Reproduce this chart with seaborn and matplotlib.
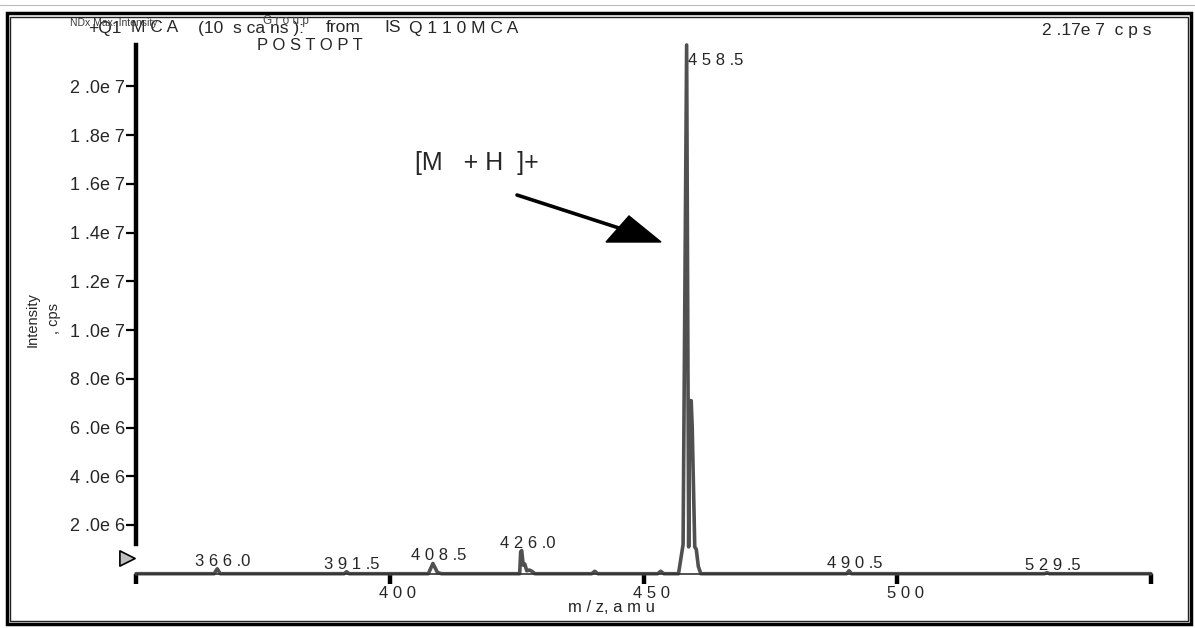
import matplotlib
matplotlib.use("Agg")
import matplotlib.pyplot as plt
from matplotlib.lines import Line2D
from matplotlib.patches import Polygon, Rectangle
from matplotlib.transforms import ScaledTranslation
import seaborn as sns
import pandas as pd

# Profile spectrum: m/z (amu) and intensity (cps)
mz = [350.0, 365.4, 366.0, 366.6, 391.0, 391.5, 392.0,
      407.6, 408.5, 409.4, 410.2,
      425.6, 425.8, 426.0, 426.3, 426.6, 427.0, 427.5, 428.0, 428.6,
      439.8, 440.4, 441.0, 452.8, 453.4, 454.0,
      456.9, 457.8, 458.5, 458.9, 459.1, 459.4, 459.6, 460.1, 460.4, 460.8, 461.3,
      490.0, 490.5, 491.0, 529.0, 529.5, 530.0, 550.0]
intensity = [0, 0, 0.2e6, 0, 0, 0.08e6, 0,
             0, 0.42e6, 0.05e6, 0,
             0, 0.9e6, 0.95e6, 0.35e6, 0.4e6, 0.12e6, 0.15e6, 0.1e6, 0,
             0, 0.1e6, 0, 0, 0.1e6, 0,
             0, 1.2e6, 2.17e7, 1.1e6, 7.1e6, 7.1e6, 6.0e6, 1.1e6, 1.0e6, 0.3e6, 0,
             0, 0.12e6, 0, 0, 0.04e6, 0, 0]

labelled_peaks = [366.0, 391.5, 408.5, 426.0, 458.5, 490.5, 529.5]
x_ticks = [350, 400, 450, 500, 550]
x_tick_labels = ["", "400", "450", "500", ""]
y_ticks = [2e6, 4e6, 6e6, 8e6, 1e7, 1.2e7, 1.4e7, 1.6e7, 1.8e7, 2e7]
max_intensity = 2.17e7

# Header words and their left edges (px)
title_words = ["+Q1", "M C A", "(10  s ca ns ):", "from", "IS", "Q 1 1 0 M C A"]
title_x = [88, 131, 198, 326, 384, 409]
subtitle_text = "P O S T O P T"
max_text = "2 .17e 7  c p s"
ion_text = "[M   + H  ]+"
x_title = "m / z, a m u"


def spaced(s):
    return " ".join(s).replace(" . ", " .")


def sci(v):
    m, e = f"{v:.1e}".split("e")
    return f"{m[0]} .{m[2]}e {int(e)}"


sns.set_theme(style="white")
plt.rcParams["font.family"] = ["Liberation Sans", "DejaVu Sans"]

W, H = 1195, 628
fig = plt.figure(figsize=(W / 100, H / 100), dpi=100)
ax = fig.add_axes([136 / W, 1 - 573.7 / H, (1151 - 136) / W, (573.7 - 45) / H])

df = pd.DataFrame({"mz": mz, "cps": intensity})
sns.lineplot(data=df, x="mz", y="cps", sort=False, estimator=None,
             color="#505050", lw=2.6, ax=ax, clip_on=False)

ax.set_xlim(350, 550)
ax.set_ylim(0, max_intensity)
ax.set_xlabel("")
ax.set_ylabel("")

for side in ("top", "right"):
    ax.spines[side].set_visible(False)
ax.spines["left"].set_linewidth(3.2)
ax.spines["left"].set_color("black")
ax.spines["left"].set_bounds(1.2e6, max_intensity)
ax.spines["bottom"].set_linewidth(1.2)
ax.spines["bottom"].set_color("#333333")

ax.set_xticks(x_ticks)
ax.set_xticklabels([spaced(t) for t in x_tick_labels], fontsize=12)
ax.tick_params(axis="x", direction="out", length=7, width=3.2, color="black",
               bottom=True, pad=2)
for lab in ax.get_xticklabels():
    lab.set_transform(lab.get_transform() + ScaledTranslation(8 / 100, 0, fig.dpi_scale_trans))

ax.set_yticks(y_ticks)
ax.set_yticklabels([sci(v) for v in y_ticks], fontsize=13)
ax.tick_params(axis="y", direction="out", length=7, width=1.6, color="black",
               left=True, pad=1)

# Peak labels
lookup = dict(zip(mz, intensity))
for p in labelled_peaks:
    h = lookup[p]
    txt = spaced(f"{p:.1f}")
    if h > 1e7:
        ax.annotate(txt, (p, h), xytext=(1, -6), textcoords="offset points",
                    ha="left", va="top", fontsize=12, annotation_clip=False)
    else:
        ax.annotate(txt, (p, h), xytext=(4, 0), textcoords="offset points",
                    ha="center", va="bottom", fontsize=12)

# Threshold marker on the left of the axis
ax.scatter([-9 / (1151 - 136)], [0.64e6], marker=">", s=120, facecolor="#bfbfbf",
           edgecolor="black", linewidth=1.2, transform=ax.get_yaxis_transform(),
           clip_on=False, zorder=5)


def fx(px):
    return px / W


def fy(py):
    return 1 - py / H


# Axis titles
fig.text(fx(612), fy(608), x_title, ha="center", va="center", fontsize=12)
fig.text(fx(33), fy(320), "Intensity", rotation=90, ha="center", va="center",
         fontsize=10.5, family=["Liberation Sans Narrow", "Liberation Sans"])
fig.text(fx(54), fy(318), ", cps", rotation=90, ha="center", va="center",
         fontsize=10.5, family=["Liberation Sans Narrow", "Liberation Sans"])

# Header
for word, x0 in zip(title_words, title_x):
    fig.text(fx(x0), fy(28), word, ha="left", va="center", fontsize=12.5)
fig.text(fx(310), fy(45), subtitle_text, ha="center", va="center", fontsize=12)
fig.text(fx(1152), fy(30), max_text, ha="right", va="center", fontsize=12.5)
fig.text(fx(70), fy(23), "NDx Max. Intensity", ha="left", va="center", fontsize=7.5,
         color="#3a3a3a", family=["Liberation Sans Narrow", "Liberation Sans"])
fig.text(fx(286), fy(21), "G r o u p", ha="center", va="center", fontsize=8.5,
         color="#444444")

# Ion annotation with arrow
fig.text(fx(415), fy(163), ion_text, ha="left", va="center", fontsize=18)
fig.add_artist(Line2D([fx(517), fx(622)], [fy(195), fy(229)], color="black", lw=2.6,
                      transform=fig.transFigure))
fig.add_artist(Polygon([[fx(606), fy(242)], [fx(661), fy(242)], [fx(629), fy(216)]],
                       closed=True, facecolor="black", edgecolor="black",
                       transform=fig.transFigure))

# Page frame
fig.add_artist(Rectangle((fx(7), fy(624)), fx(1191) - fx(7), fy(13) - fy(624),
                         fill=False, edgecolor="black", lw=2.5, transform=fig.transFigure))
fig.add_artist(Rectangle((fx(10), fy(621)), fx(1188) - fx(10), fy(17) - fy(621),
                         fill=False, edgecolor="#222222", lw=1.0, transform=fig.transFigure))
fig.add_artist(Line2D([fx(0), fx(1195)], [fy(5), fy(5)], color="#bbbbbb", lw=0.8,
                      transform=fig.transFigure))

fig.savefig("out.png", dpi=100)
